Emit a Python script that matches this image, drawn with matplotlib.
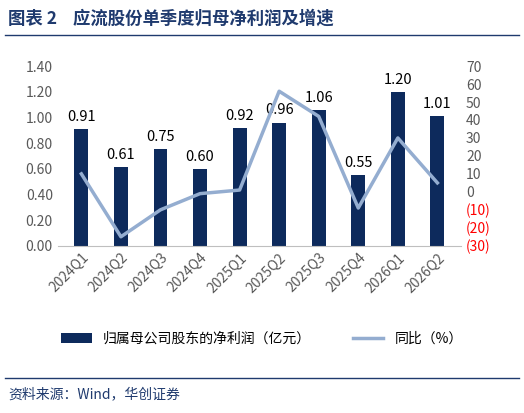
import matplotlib.pyplot as plt
import matplotlib.ticker as mticker

plt.rcParams['font.family'] = ['Noto Sans CJK SC', 'DejaVu Sans']

quarters = ["2024Q1", "2024Q2", "2024Q3", "2024Q4", "2025Q1", "2025Q2", "2025Q3", "2025Q4", "2026Q1", "2026Q2"]
profit = [0.91, 0.61, 0.75, 0.60, 0.92, 0.96, 1.06, 0.55, 1.20, 1.01]
yoy = [10, -25, -10, -1, 1, 56, 42, -9, 30, 5]

fig = plt.figure(figsize=(5.24, 4.13), dpi=100)
fig.text(0.015, 0.955, "图表 2    应流股份单季度归母净利润及增速", fontsize=12.5, fontweight='bold',
         color='#1f3a6e', style='italic', va='center')
fig.add_artist(plt.Line2D([0.01, 0.99], [0.915, 0.915], color='#1f3a6e', lw=1))
fig.add_artist(plt.Line2D([0.01, 0.99], [0.085, 0.085], color='#1f3a6e', lw=1))
fig.text(0.015, 0.045, "资料来源：Wind，华创证券", fontsize=10, style='italic', color='#1f3a6e', va='center')

ax = fig.add_axes([0.11, 0.405, 0.77, 0.435])
x = range(len(quarters))
ax.bar(x, profit, width=0.35, color='#0d2a5c', label="归属母公司股东的净利润（亿元）")
for i, v in zip(x, profit):
    ax.text(i, v + 0.04, f"{v:.2f}", ha='center', va='bottom', fontsize=10.5)
ax.set_ylim(0, 1.4)
ax.yaxis.set_major_locator(mticker.MultipleLocator(0.2))
ax.yaxis.set_major_formatter(mticker.FormatStrFormatter('%.2f'))
ax.set_xlim(-0.6, len(quarters) - 0.4)
ax.set_xticks(list(x))
ax.set_xticklabels(quarters, rotation=45, ha='right', rotation_mode='anchor', fontsize=10)
for s in ['top', 'right', 'left']:
    ax.spines[s].set_visible(False)
ax.spines['bottom'].set_color('#bfbfbf')
ax.tick_params(length=0, labelsize=10, labelcolor='#595959')

ax2 = ax.twinx()
ax2.plot(x, yoy, color='#94add0', lw=2.5, label="同比（%）")
ax2.set_ylim(-30, 70)
ax2.yaxis.set_major_locator(mticker.MultipleLocator(10))
ax2.yaxis.set_major_formatter(mticker.FuncFormatter(lambda v, p: f"({abs(int(v))})" if v < 0 else f"{int(v)}"))
for s in ['top', 'right', 'left', 'bottom']:
    ax2.spines[s].set_visible(False)
ax2.tick_params(length=0, labelsize=10, labelcolor='#595959')
fig.canvas.draw()
for t in ax2.get_yticklabels():
    if t.get_text().startswith('('):
        t.set_color('red')

h1, l1 = ax.get_legend_handles_labels()
h2, l2 = ax2.get_legend_handles_labels()
fig.legend(h1 + h2, l1 + l2, loc='center', bbox_to_anchor=(0.5, 0.18), ncol=2, frameon=False,
           fontsize=10, handlelength=2.2, columnspacing=3)

fig.savefig("out.png")
